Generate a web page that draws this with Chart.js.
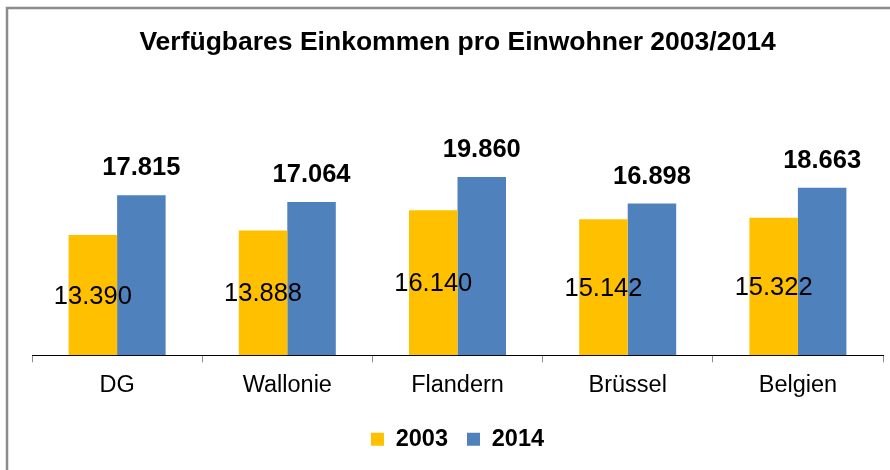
<!DOCTYPE html>
<html><head><meta charset="utf-8">
<script src="https://cdn.jsdelivr.net/npm/chart.js@4"></script>
<style>html,body{margin:0;padding:0;background:#fff}#wrap{width:890px;height:470px}</style>
</head><body><div id="wrap"><canvas id="c" width="890" height="470"></canvas></div>
<script>
const categories = ["DG", "Wallonie", "Flandern", "Brüssel", "Belgien"];
const values2003 = [13390, 13888, 16140, 15142, 15322];
const values2014 = [17815, 17064, 19860, 16898, 18663];
const seriesNames = ["2003", "2014"];
const titleText = "Verfügbares Einkommen pro Einwohner 2003/2014";

const FONT = "'Liberation Sans', Arial, sans-serif";
function fmt(v){ return Math.floor(v/1000) + "." + String(v % 1000).padStart(3, "0"); }

const framePlugin = {
  id: "frame",
  beforeDraw(chart){
    const ctx = chart.ctx;
    ctx.save();
    ctx.fillStyle = "#fff";
    ctx.fillRect(0,0,chart.width,chart.height);
    ctx.strokeStyle = "#8c8c8c";
    ctx.lineWidth = 2.5;
    ctx.beginPath();
    ctx.moveTo(7, 470); ctx.lineTo(7, 8); ctx.lineTo(890, 8);
    ctx.stroke();
    ctx.restore();
  }
};

const labelPlugin = {
  id: "valueLabels",
  afterDatasetsDraw(chart){
    const ctx = chart.ctx;
    ctx.save();
    ctx.fillStyle = "#000";
    ctx.textAlign = "center";
    ctx.textBaseline = "middle";
    chart.getDatasetMeta(0).data.forEach((bar, i) => {
      ctx.font = "25.5px " + FONT;
      ctx.fillText(fmt(values2003[i]), bar.x, (bar.y + bar.base) / 2 + 1.5);
    });
    chart.getDatasetMeta(1).data.forEach((bar, i) => {
      ctx.font = "bold 25.5px " + FONT;
      ctx.fillText(fmt(values2014[i]), bar.x, bar.y - 27);
    });
    ctx.restore();
  }
};

new Chart(document.getElementById("c"), {
  type: "bar",
  data: {
    labels: categories,
    datasets: [
      { label: seriesNames[0], data: values2003, backgroundColor: "#FFC000", categoryPercentage: 0.57, barPercentage: 1.0 },
      { label: seriesNames[1], data: values2014, backgroundColor: "#4F81BD", categoryPercentage: 0.57, barPercentage: 1.0 }
    ]
  },
  options: {
    responsive: false,
    animation: false,
    devicePixelRatio: 1,
    layout: { padding: { left: 32, right: 7, top: 0, bottom: 9 } },
    scales: {
      x: {
        grid: { display: true, drawOnChartArea: false, drawTicks: true, tickLength: 7, color: "#8c8c8c", lineWidth: 1 },
        border: { display: true, color: "#000", width: 1 },
        ticks: { color: "#000", font: { family: FONT, size: 23.5 }, padding: 9 }
      },
      y: { display: false, min: 0, max: 25000 }
    },
    plugins: {
      title: {
        display: true, text: titleText, color: "#000",
        font: { family: FONT, size: 26.5, weight: "bold" },
        padding: { top: 27, bottom: 72 }
      },
      legend: {
        display: true, position: "bottom",
        labels: { color: "#000", font: { family: FONT, size: 23.5, weight: "bold" }, boxWidth: 13, boxHeight: 13, padding: 19 }
      },
      tooltip: { enabled: false }
    }
  },
  plugins: [framePlugin, labelPlugin]
});
</script></body></html>
